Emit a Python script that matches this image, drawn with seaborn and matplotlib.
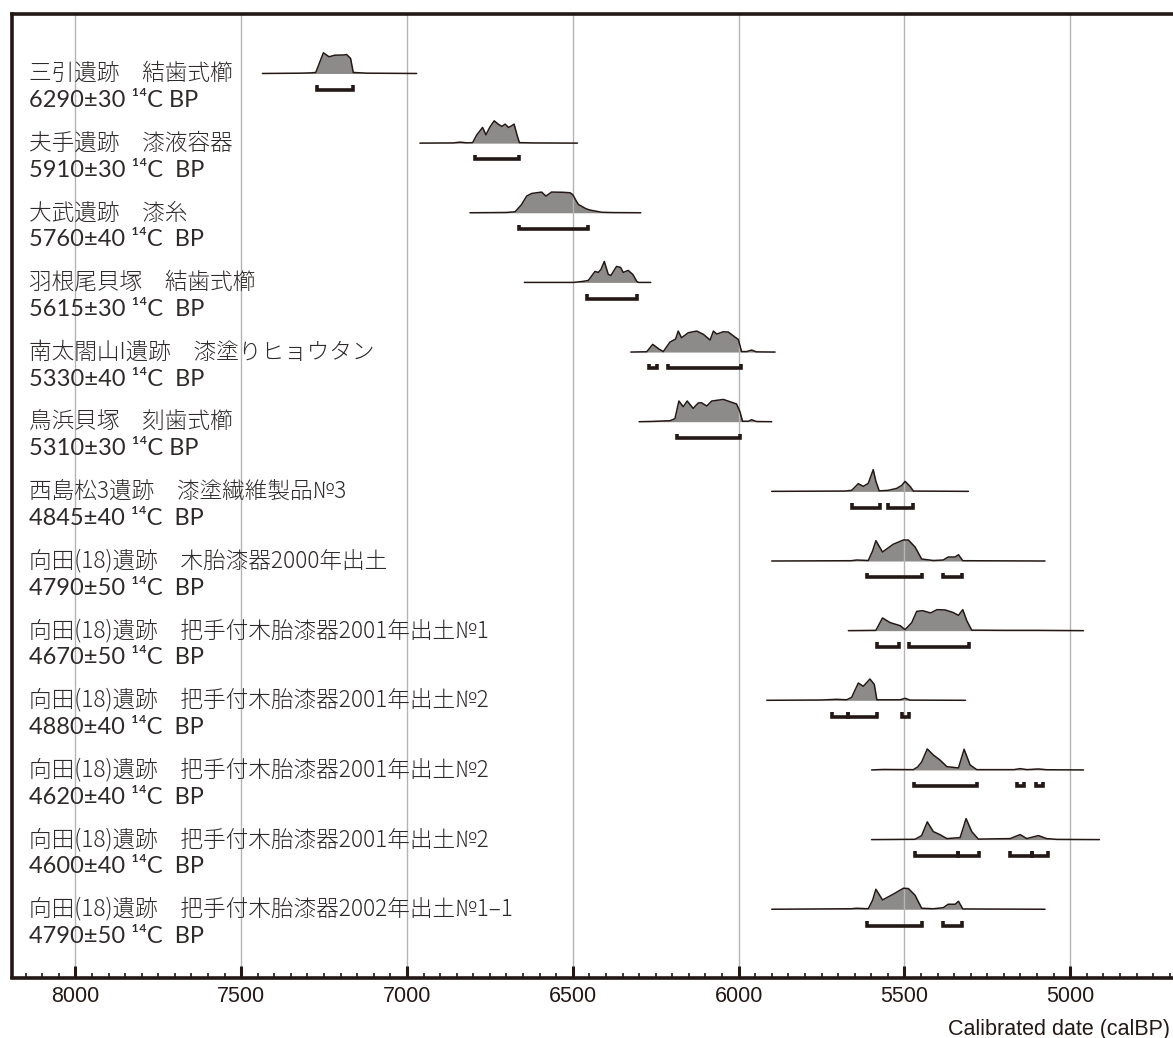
import numpy as np
import pandas as pd
import seaborn as sns
import matplotlib.pyplot as plt
from matplotlib.ticker import MultipleLocator
from matplotlib.transforms import blended_transform_factory

# 試料名と年代
site = [
    '三引遺跡　結歯式櫛',
    '夫手遺跡　漆液容器',
    '大武遺跡　漆糸',
    '羽根尾貝塚　結歯式櫛',
    '南太閤山I遺跡　漆塗りヒョウタン',
    '鳥浜貝塚　刻歯式櫛',
    '西島松3遺跡　漆塗繊維製品№3',
    '向田(18)遺跡　木胎漆器2000年出土',
    '向田(18)遺跡　把手付木胎漆器2001年出土№1',
    '向田(18)遺跡　把手付木胎漆器2001年出土№2',
    '向田(18)遺跡　把手付木胎漆器2001年出土№2',
    '向田(18)遺跡　把手付木胎漆器2001年出土№2',
    '向田(18)遺跡　把手付木胎漆器2002年出土№1–1',
]
c14 = [
    '6290±30 ¹⁴C BP', '5910±30 ¹⁴C  BP', '5760±40 ¹⁴C  BP', '5615±30 ¹⁴C  BP',
    '5330±40 ¹⁴C  BP', '5310±30 ¹⁴C BP', '4845±40 ¹⁴C  BP', '4790±50 ¹⁴C  BP',
    '4670±50 ¹⁴C  BP', '4880±40 ¹⁴C  BP', '4620±40 ¹⁴C  BP', '4600±40 ¹⁴C  BP',
    '4790±50 ¹⁴C  BP',
]

# 較正年代の確率分布 (calBP, 相対確率)
cal_year = [
    [7436, 7320, 7290, 7275, 7252, 7235, 7217, 7190, 7182, 7170, 7162, 7120, 6971],
    [6961, 6860, 6840, 6820, 6802, 6790, 6772, 6762, 6750, 6737, 6725, 6714, 6704,
     6694, 6686, 6677, 6668, 6661, 6620, 6486],
    [6810, 6700, 6674, 6655, 6639, 6624, 6594, 6581, 6564, 6530, 6508, 6500, 6490,
     6483, 6460, 6448, 6413, 6380, 6295],
    [6646, 6498, 6470, 6453, 6433, 6423, 6415, 6405, 6393, 6385, 6368, 6356, 6348,
     6333, 6319, 6307, 6302, 6265],
    [6325, 6277, 6259, 6240, 6227, 6207, 6190, 6182, 6172, 6152, 6126, 6106, 6086,
     6076, 6066, 6046, 6031, 6011, 6001, 5991, 5975, 5961, 5946, 5890],
    [6300, 6260, 6207, 6192, 6180, 6167, 6155, 6137, 6122, 6112, 6096, 6081, 6046,
     6026, 6006, 5996, 5988, 5970, 5961, 5946, 5900],
    [5900, 5680, 5659, 5639, 5624, 5609, 5594, 5586, 5576, 5549, 5523, 5508, 5498,
     5483, 5473, 5307],
    [5900, 5660, 5644, 5609, 5596, 5586, 5566, 5534, 5503, 5488, 5468, 5448, 5413,
     5383, 5368, 5347, 5337, 5324, 5076],
    [5669, 5586, 5566, 5543, 5513, 5498, 5478, 5463, 5445, 5421, 5402, 5377, 5352,
     5337, 5324, 5312, 5297, 5200, 5098, 4960],
    [5915, 5750, 5704, 5674, 5659, 5639, 5624, 5604, 5591, 5583, 5513, 5498, 5483, 5316],
    [5599, 5564, 5473, 5460, 5448, 5431, 5413, 5393, 5372, 5350, 5337, 5320, 5302,
     5282, 5170, 5151, 5130, 5096, 5070, 4960],
    [5599, 5468, 5448, 5431, 5413, 5393, 5372, 5332, 5314, 5297, 5277, 5181, 5151,
     5131, 5096, 5071, 5040, 4912],
    [5900, 5660, 5644, 5609, 5596, 5586, 5566, 5534, 5503, 5488, 5468, 5448, 5413,
     5383, 5368, 5347, 5337, 5324, 5076],
]
cal_prob = [
    [0, 0.3, 0.6, 1, 20.7, 16.7, 18.3, 18.5, 19, 15, 1, 0.3, 0],
    [0, 0.2, 1.0, 0.3, 0.5, 8, 15.7, 8.3, 16, 22.3, 19, 16.7, 19,
     15.7, 17, 19, 8, 0.5, 0.2, 0],
    [0, 0.3, 1, 8, 16.7, 19.3, 20.7, 16.7, 20.7, 20.5, 20, 18, 12,
     8.3, 4, 2.7, 0.5, 0.2, 0],
    [0, 0, 1, 2, 11, 10, 13, 21, 8, 7, 16, 15, 10,
     12, 8, 1, 0, 0],
    [0, 0.3, 7.7, 3, 0.5, 10, 13, 21, 14.3, 19.3, 21, 17.7, 12,
     21, 18, 20.3, 20, 15, 12.7, 0.5, 0.5, 2, 0.2, 0],
    [0, 0.3, 1, 3, 20.7, 15, 20.7, 13.3, 18.7, 19, 15.7, 20.7, 22.3,
     20, 17.7, 10, 0.5, 0.5, 2, 0.2, 0],
    [0, 0.3, 1, 7.7, 5, 8, 21.7, 10, 0.5, 1, 3, 6, 10,
     5, 0.3, 0],
    [0, 0.3, 1, 0.5, 10, 20.3, 9, 16.7, 21, 21, 14, 2, 0.5,
     1, 4, 4, 6.3, 0.3, 0],
    [0, 0.3, 12.7, 8, 5, 1, 8, 19.3, 20, 17.7, 21, 20.7, 18,
     15.3, 21, 10, 0.5, 0.3, 0.3, 0],
    [0, 0.3, 1, 0.5, 3, 17.3, 14, 21.3, 16, 0.5, 0.5, 2, 0.2, 0],
    [0, 0.5, 0.3, 3, 8, 21, 15, 10, 3.3, 2.5, 2, 20.7, 5,
     0.3, 0.3, 1.3, 0.3, 1, 0.2, 0],
    [0, 0.3, 4, 17.7, 8, 5, 1, 2, 21, 8, 0.5, 1, 5,
     1, 4, 1, 0.2, 0],
    [0, 0.5, 1, 0.5, 9, 20, 9.3, 15, 21, 20.7, 14, 1, 0.5,
     1.5, 5, 5, 8, 0.3, 0],
]

# 2σ 範囲 (calBP)
sigma2 = [
    [(7272, 7164)],
    [(6795, 6661)],
    [(6661, 6453)],
    [(6456, 6307)],
    [(6269, 6247), (6214, 5994)],
    [(6187, 5996)],
    [(5657, 5574), (5549, 5475)],
    [(5613, 5448), (5383, 5327)],
    [(5582, 5516), (5486, 5304)],
    [(5718, 5669), (5669, 5582), (5507, 5486)],
    [(5471, 5282), (5160, 5138), (5102, 5083)],
    [(5468, 5337), (5337, 5275), (5181, 5116), (5116, 5066)],
    [(5613, 5448), (5383, 5327)],
]
major_ticks = [8000, 7500, 7000, 6500, 6000, 5500, 5000]

sns.set_style('white')
plt.rcParams['font.family'] = ['Noto Sans CJK JP', 'DejaVu Sans']

ink = '#231815'
text_ink = '#2e2a29'
fill = '#8d8b8a'
k = 1 / 69.65  # 確率 -> 行の高さ

fig = plt.figure(figsize=(11.73, 10.38), dpi=100)
ax = fig.add_axes([12 / 1173, 1 - 977.5 / 1038, 1168 / 1173, 963.5 / 1038])

for i in range(len(site)):
    df = pd.DataFrame({'year': cal_year[i], 'prob': cal_prob[i]})
    df['y'] = i - df['prob'] * k
    ax.fill_between(df['year'], i, df['y'], color=fill, lw=0, zorder=1)
    sns.lineplot(data=df, x='year', y='y', sort=False, estimator=None,
                 color=ink, lw=1.1, ax=ax, zorder=3)
    yb = i + 0.235
    for a, b in sigma2[i]:
        ax.plot([a, a, b, b], [yb - 0.065, yb, yb, yb - 0.065], color=ink, lw=2.6,
                solid_joinstyle='miter', solid_capstyle='butt', zorder=3)

trans = blended_transform_factory(ax.transAxes, ax.transData)
for i in range(len(site)):
    ax.text(0.0146, i, site[i], transform=trans, fontsize=16.3, color=text_ink,
            va='center', fontweight='light')
    ax.text(0.0146, i + 0.39, c14[i], transform=trans, fontsize=17, color=text_ink,
            va='center', fontweight='normal',
            family=['Lato', 'Noto Sans CJK JP', 'DejaVu Sans'])

ax.set_xlim(8191, 4669)
ax.set_ylim(12.98, -0.854)
ax.set_xticks(major_ticks)
ax.set_xticklabels([str(t) for t in major_ticks], fontfamily='Liberation Sans')
ax.xaxis.set_minor_locator(MultipleLocator(50))
ax.set_yticks([])
ax.set_xlabel('')
ax.set_ylabel('')
ax.xaxis.grid(True, which='major', color='#b4b4b4', lw=1.0)
ax.set_axisbelow('line')
ax.tick_params(axis='x', which='major', bottom=True, direction='in', length=9, width=2.2,
               color=ink, pad=6, labelsize=15.5, labelcolor=ink)
ax.tick_params(axis='x', which='minor', bottom=True, direction='in', length=3.8,
               width=1.2, color=ink)
for s in ['left', 'top', 'bottom']:
    ax.spines[s].set_color(ink)
    ax.spines[s].set_linewidth(2.6)
ax.spines['right'].set_visible(False)

fig.text(1170 / 1173, 1 - 1029 / 1038, 'Calibrated date (calBP)', ha='right', va='center',
         fontsize=15.5, fontfamily='Liberation Sans', color=ink)

plt.savefig('out.png', dpi=100)
